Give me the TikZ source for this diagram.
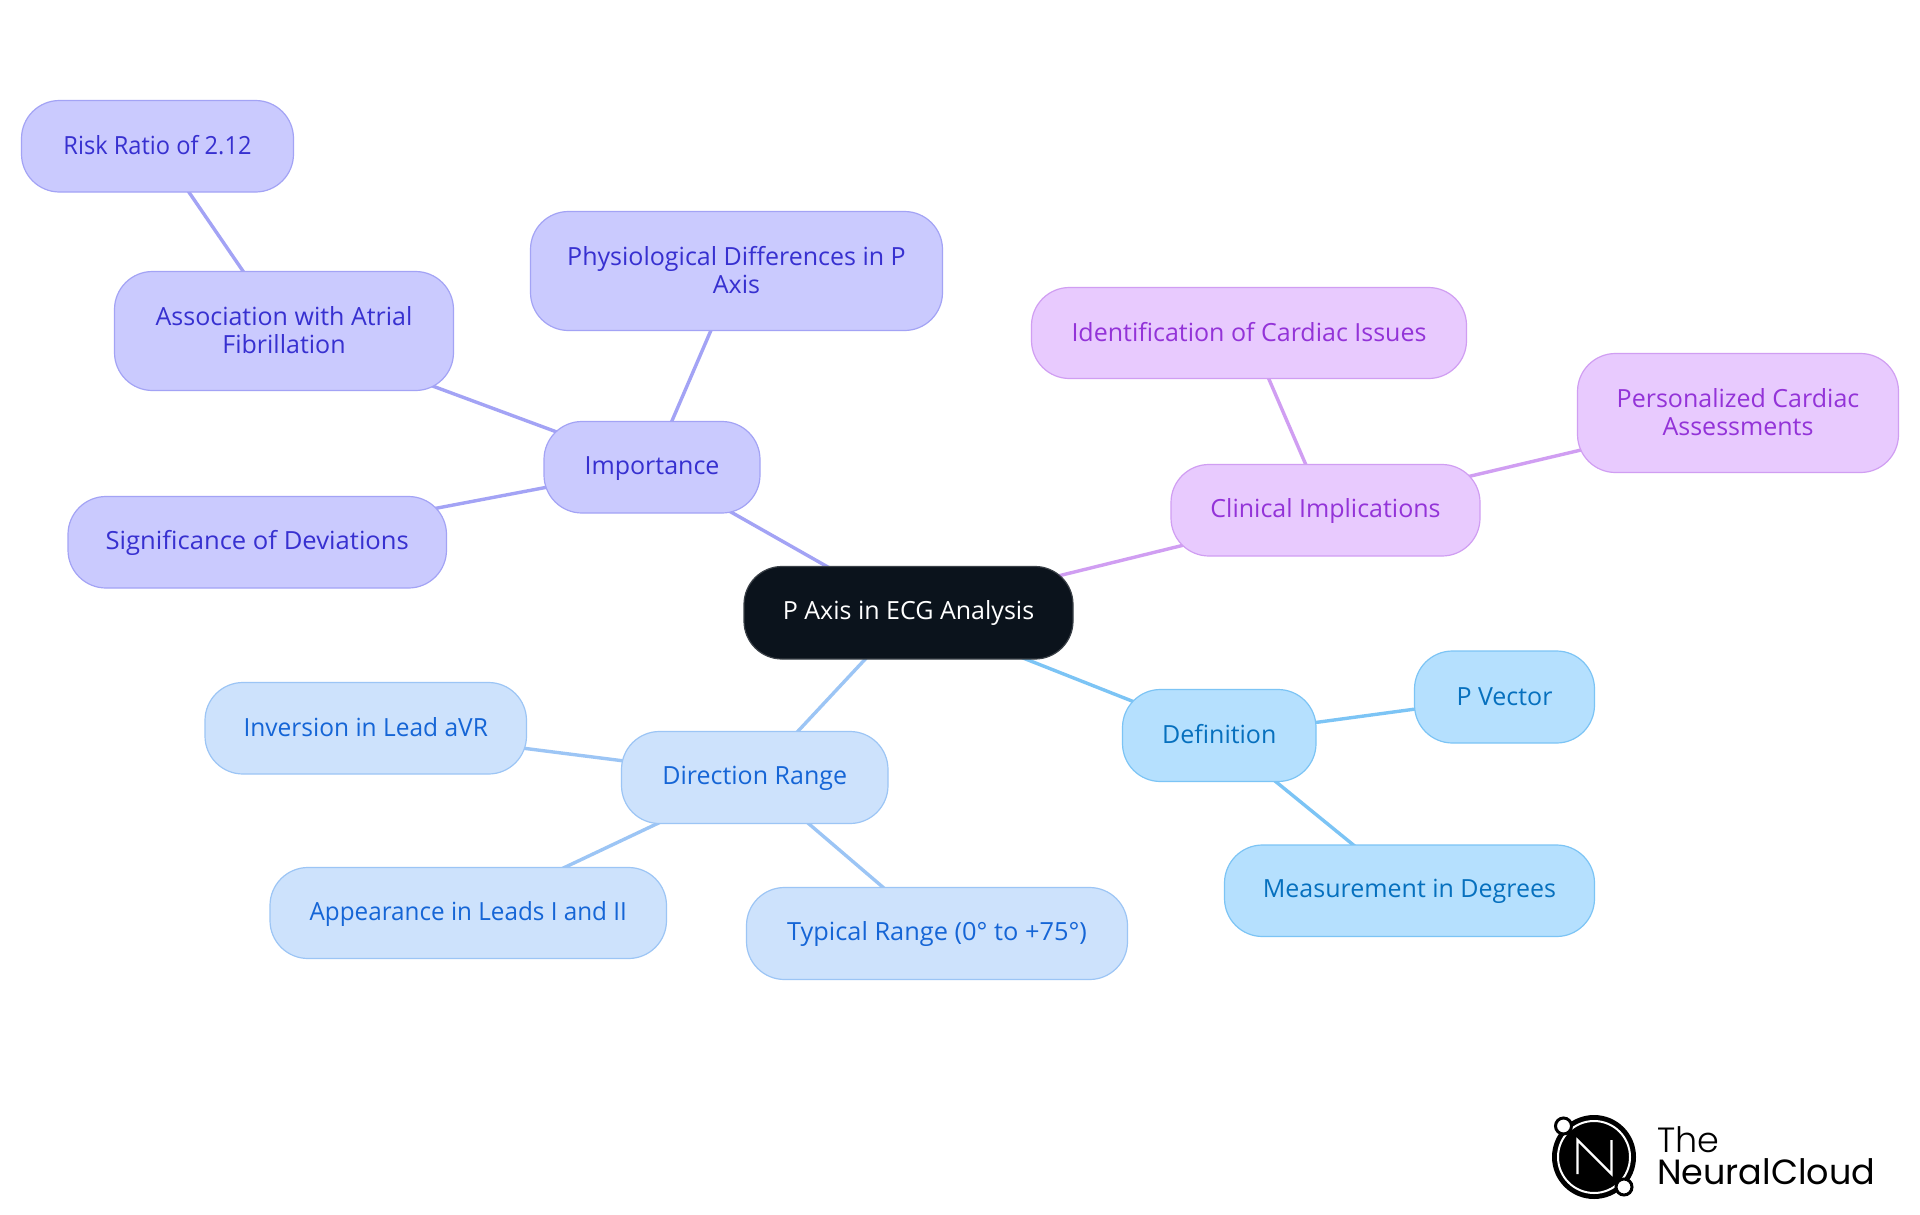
\documentclass[tikz,border=0pt]{standalone}
\usepackage{fontspec}
\setmainfont{Open Sans}
\newfontfamily\logofont{Poppins Light}
\newfontfamily\logofontb{Poppins}
\pgfdeclarelayer{paper}
\pgfdeclarelayer{links}
\pgfsetlayers{paper,links,main}
\definecolor{rootfill}{HTML}{0B131C}
\definecolor{rootline}{HTML}{3A4047}
\definecolor{vfill}{HTML}{CACAFE}\definecolor{vline}{HTML}{A3A3F5}\definecolor{vtext}{HTML}{3730D0}
\definecolor{pfill}{HTML}{E8CAFE}\definecolor{pline}{HTML}{D09EF2}\definecolor{ptext}{HTML}{9333D8}
\definecolor{cfill}{HTML}{B5E0FE}\definecolor{cline}{HTML}{7CC4F5}\definecolor{ctext}{HTML}{0670BE}
\definecolor{bfill}{HTML}{CDE2FC}\definecolor{bline}{HTML}{9CC5F5}\definecolor{btext}{HTML}{1565D6}
\tikzset{
  x=1pt,y=-1pt,
  vbox/.style={rectangle,draw=vline,fill=vfill,text=vtext},
  pbox/.style={rectangle,draw=pline,fill=pfill,text=ptext},
  cbox/.style={rectangle,draw=cline,fill=cfill,text=ctext},
  bbox/.style={rectangle,draw=bline,fill=bfill,text=btext},
  rbox/.style={rectangle,draw=rootline,fill=rootfill,text=white},
  nd/.style={line width=1.2pt,rounded corners=38pt,font=\fontsize{25}{28}\selectfont,align=center,inner sep=0pt},
  link/.style={line width=3.4pt},
  logotext/.style={anchor=base west,inner sep=0pt,text=black},
}
\newcommand{\sth}{\rule{0pt}{20pt}}
\newcommand{\sdp}{\rule[-4pt]{0pt}{4pt}}
\newcommand{\hsc}[2]{\scalebox{#1}[1]{#2}}
% name, x0, y0, x1, y1, style, text
\newcommand{\mmnode}[7]{\node[nd,#6,minimum width={#4-#2},minimum height={#5-#3}] (#1) at ({(#2+#4)/2},{(#3+#5)/2}) {\sth#7\sdp};}
\begin{document}
\begin{tikzpicture}
\useasboundingbox (0,0) rectangle (1920,1215);
\begin{pgfonlayer}{paper}
\fill[white] (0,0) rectangle (1920,1215);
\end{pgfonlayer}
\mmnode{root}{744}{566.5}{1073}{659}{rbox}{P Axis in ECG Analysis}
\mmnode{imp}{544}{421.5}{760}{513}{vbox}{Importance}
\mmnode{risk}{21.5}{100.5}{293.5}{192}{vbox}{\hsc{.945}{Risk Ratio of 2.12}}
\mmnode{assoc}{114.5}{271.5}{453.5}{390.5}{vbox}{Association with Atrial\\Fibrillation}
\mmnode{phys}{530.5}{211.5}{942.5}{330.5}{vbox}{Physiological Differences in P\\Axis}
\mmnode{sig}{68}{496.5}{446.5}{588}{vbox}{\hsc{1.025}{Significance of Deviations}}
\mmnode{clin}{1171}{464.5}{1480}{556}{pbox}{Clinical Implications}
\mmnode{ident}{1031.5}{287.5}{1466.5}{378.5}{pbox}{Identification of Cardiac Issues}
\mmnode{pers}{1577.5}{353.5}{1898.5}{472.5}{pbox}{Personalized Cardiac\\Assessments}
\mmnode{def}{1122.5}{689.5}{1316}{781.5}{cbox}{Definition}
\mmnode{pv}{1414.5}{651}{1594.5}{743}{cbox}{P Vector}
\mmnode{meas}{1224.5}{845}{1594.5}{936.5}{cbox}{Measurement in Degrees}
\mmnode{dir}{621.5}{731.5}{888}{823.5}{bbox}{Direction Range}
\mmnode{inv}{205}{682.5}{526.5}{774}{bbox}{\hsc{.98}{Inversion in Lead aVR}}
\mmnode{app}{270}{867.5}{666.5}{958.5}{bbox}{\hsc{.97}{Appearance in Leads I and II}}
\mmnode{typ}{746.5}{887.5}{1127.5}{979.5}{bbox}{\hsc{1.015}{Typical Range (0° to +75°)}}
\begin{pgfonlayer}{links}
\draw[link,vline] (root.center)--(imp.center) (imp.center)--(assoc.center) (imp.center)--(phys.center) (imp.center)--(sig.center) (assoc.center)--(risk.center);
\draw[link,pline] (root.center)--(clin.center) (clin.center)--(ident.center) (clin.center)--(pers.center);
\draw[link,cline] (root.center)--(def.center) (def.center)--(pv.center) (def.center)--(meas.center);
\draw[link,bline] (root.center)--(dir.center) (dir.center)--(inv.center) (dir.center)--(app.center) (dir.center)--(typ.center);
\end{pgfonlayer}
% logo
\fill[black] (1594,1157) circle (42);
\draw[white,line width=2pt] (1594,1157) circle (36);
\draw[white,line width=2.2pt,line join=miter] (1577.5,1174)--(1577.5,1140)--(1611.5,1174)--(1611.5,1140);
\draw[black,fill=white,line width=3pt] (1563.5,1126) circle (8);
\draw[black,fill=white,line width=3pt] (1624,1187) circle (8);
\node[logotext,font=\logofont\fontsize{35}{35}\selectfont] (logoa) at (1657,1152.5) {The};
\node[logotext,font=\logofontb\fontsize{35}{35}\selectfont] (logob) at (1657,1184.5) {NeuralCloud};
\end{tikzpicture}
\end{document}
